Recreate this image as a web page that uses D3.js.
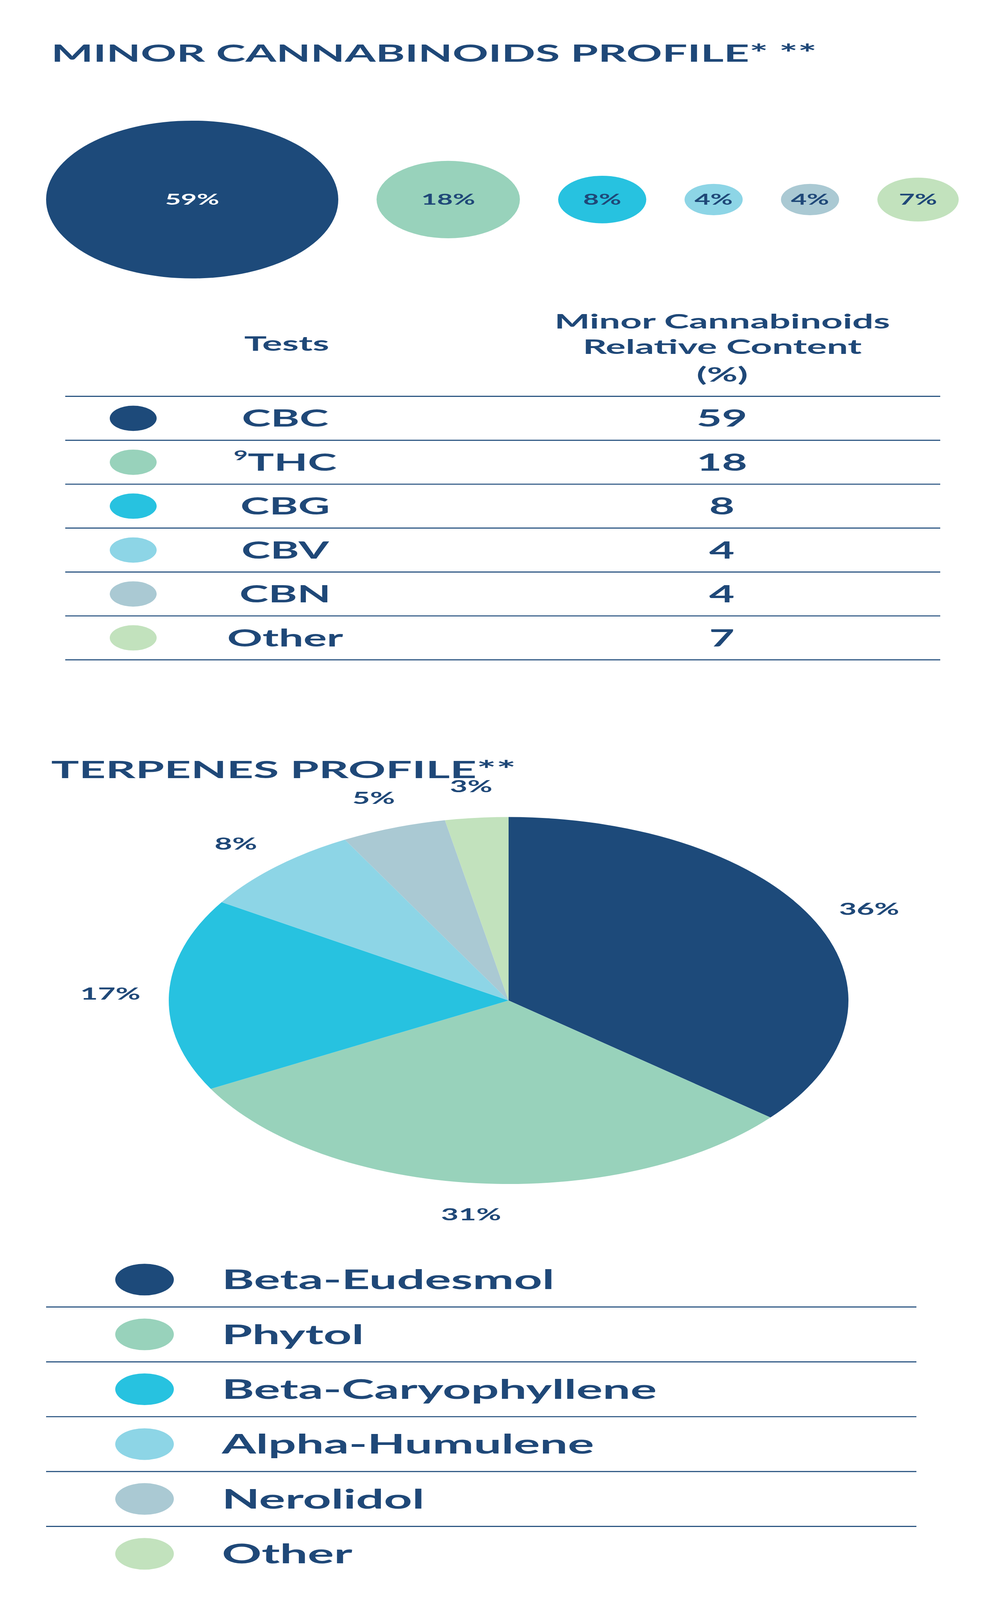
<!DOCTYPE html>
<html>
<head>
<meta charset="utf-8">
<script src="https://cdn.jsdelivr.net/npm/d3@7"></script>
<style>
  html, body { margin: 0; padding: 0; background: #fff; overflow: hidden; }
  svg { display: block; width: 100vw; height: 100vh; }
  text { font-family: Lato, "Open Sans", sans-serif; fill: #1f4878; }
</style>
</head>
<body>
<svg id="chart" viewBox="0 0 2560 7585" preserveAspectRatio="none"></svg>
<script>
var cannabinoids = ["CBC", "THC", "CBG", "CBV", "CBN", "Other"]
,   cannabinoidValues = [59, 18, 8, 4, 4, 7]
,   terpenes = ["Beta-Eudesmol", "Phytol", "Beta-Caryophyllene", "Alpha-Humulene", "Nerolidol", "Other"]
,   terpeneValues = [36, 31, 17, 8, 5, 3]
,   colors = ["#1d4a7a", "#98d2bb", "#27c2e0", "#8dd5e6", "#aac9d3", "#c2e2bd"]
;

var svg = d3.select("#chart")
,   color = d3.scaleOrdinal().domain(d3.range(6)).range(colors)
;

// titles
svg.append("text").attr("x", 131).attr("y", 292)
    .attr("font-size", 112).attr("font-weight", 700)
    .attr("textLength", 1960).attr("lengthAdjust", "spacingAndGlyphs")
    .text("MINOR CANNABINOIDS PROFILE* **");
svg.append("text").attr("x", 131).attr("y", 3688)
    .attr("font-size", 112).attr("font-weight", 700)
    .attr("textLength", 1190).attr("lengthAdjust", "spacingAndGlyphs")
    .text("TERPENES PROFILE**");

// bubbles
var r = d3.scalePow().exponent(0.6).domain([0, 59]).range([0, 374])
,   gap = 98
,   x = 118
,   bubbles = cannabinoidValues.map(function (v, i) {
        var rad = r(v), cx = x + rad;
        x += 2 * rad + gap;
        return { v: v, i: i, r: rad, cx: cx };
    })
;
var b = svg.append("g").selectAll("g").data(bubbles).enter().append("g")
    .attr("transform", function (d) { return "translate(" + d.cx + ",946)"; });
b.append("circle").attr("r", d => d.r).attr("fill", d => color(d.i));
b.append("text").attr("text-anchor", "middle").attr("dy", "0.35em")
    .attr("font-size", 70).attr("font-weight", 700)
    .style("fill", d => d.i === 0 ? "#fff" : "#1f4878")
    .text(d => d.v + "%");

// table
var rowY = d3.scaleLinear().domain([0, 6]).range([1879, 3128]);
var head = svg.append("g").attr("font-size", 96).attr("font-weight", 700);
head.append("text").attr("x", 734).attr("y", 1663).attr("text-anchor", "middle").text("Tests");
[["Minor Cannabinoids", 1557], ["Relative Content", 1678], ["(%)", 1809]].forEach(function (l) {
    head.append("text").attr("x", 1849).attr("y", l[1]).attr("text-anchor", "middle").text(l[0]);
});
svg.append("g").selectAll("line").data(d3.range(7)).enter().append("line")
    .attr("x1", 167).attr("x2", 2407)
    .attr("y1", d => rowY(d)).attr("y2", d => rowY(d))
    .attr("stroke", "#1d4a7a").attr("stroke-width", 5);
var rows = svg.append("g").selectAll("g").data(cannabinoids).enter().append("g")
    .attr("transform", (d, i) => "translate(0," + (rowY(i) + rowY(i + 1)) / 2 + ")");
rows.append("circle").attr("cx", 341).attr("r", 60).attr("fill", (d, i) => color(i));
var lab = rows.append("text").attr("x", 730).attr("y", 40).attr("text-anchor", "middle")
    .attr("font-size", 112).attr("font-weight", 700);
lab.filter((d, i) => i === 1).append("tspan").attr("font-size", 62).attr("baseline-shift", "80%").text("9");
lab.append("tspan").text(d => d);
rows.append("text").attr("x", 1848).attr("y", 40).attr("text-anchor", "middle")
    .attr("font-size", 112).attr("font-weight", 700)
    .text((d, i) => cannabinoidValues[i]);

// pie
var pie = d3.pie().sort(null)
,   arc = d3.arc().innerRadius(0).outerRadius(870)
,   labelArc = d3.arc().innerRadius(1020).outerRadius(1020)
,   pg = svg.append("g").attr("transform", "translate(1302,4743)")
,   slices = pie(terpeneValues)
;
pg.selectAll("path").data(slices).enter().append("path")
    .attr("d", arc).attr("fill", (d, i) => color(i));
pg.selectAll("text").data(slices).enter().append("text")
    .attr("transform", d => "translate(" + labelArc.centroid(d) + ")")
    .attr("text-anchor", "middle").attr("dy", "0.35em")
    .attr("font-size", 78).attr("font-weight", 700)
    .text(d => d.data + "%");

// legend
var legY = d3.scaleLinear().domain([0, 1]).range([6066, 6326]);
svg.append("g").selectAll("line").data(d3.range(5)).enter().append("line")
    .attr("x1", 118).attr("x2", 2346)
    .attr("y1", d => legY(d + 0.5)).attr("y2", d => legY(d + 0.5))
    .attr("stroke", "#1d4a7a").attr("stroke-width", 5);
var leg = svg.append("g").selectAll("g").data(terpenes).enter().append("g")
    .attr("transform", (d, i) => "translate(0," + legY(i) + ")");
leg.append("circle").attr("cx", 370).attr("r", 75).attr("fill", (d, i) => color(i));
leg.append("text").attr("x", 568).attr("dy", "0.36em")
    .attr("font-size", 126).attr("font-weight", 700).text(d => d);
</script>
</body>
</html>
